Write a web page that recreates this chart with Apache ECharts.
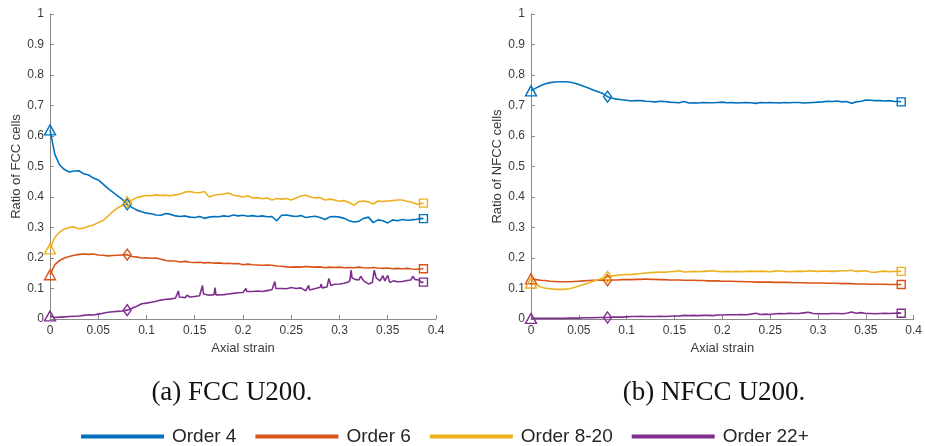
<!DOCTYPE html>
<html>
<head>
<meta charset="utf-8">
<script src="https://cdn.jsdelivr.net/npm/echarts@6/dist/echarts.min.js"></script>
<style>html,body{margin:0;padding:0;background:#fff;}#chart{width:925px;height:446px;}</style>
</head>
<body>
<div id="chart"></div>
<script>
// ---------- data ----------
const seriesNames = ['Order 4', 'Order 6', 'Order 8-20', 'Order 22+'];
const xTicks = [0, 0.05, 0.1, 0.15, 0.2, 0.25, 0.3, 0.35, 0.4];

const strain = [0,0.005,0.01,0.015,0.02,0.025,0.03,0.035,0.04,0.045,0.05,0.055,0.06,0.065,0.07,0.075,0.08,0.085,0.09,0.095,
0.1,0.105,0.11,0.115,0.12,0.125,0.13,0.135,0.14,0.145,0.15,0.155,0.16,0.165,0.17,0.175,0.18,0.185,0.19,0.195,
0.2,0.205,0.21,0.215,0.22,0.225,0.23,0.235,0.24,0.245,0.25,0.255,0.26,0.265,0.27,0.275,0.28,0.285,0.29,0.295,
0.3,0.305,0.31,0.315,0.32,0.325,0.33,0.335,0.34,0.345,0.35,0.355,0.36,0.365,0.37,0.375,0.38,0.385,0.387];

// (a) FCC U200
const fccOrder4 = [0.62,0.54,0.505,0.49,0.482,0.485,0.486,0.476,0.472,0.462,0.456,0.442,0.428,0.416,0.404,0.392,0.376,0.366,0.357,0.352,
0.347,0.345,0.341,0.34,0.346,0.343,0.338,0.336,0.338,0.334,0.333,0.336,0.33,0.334,0.336,0.335,0.338,0.336,0.341,0.338,
0.34,0.337,0.339,0.336,0.338,0.335,0.336,0.322,0.34,0.341,0.338,0.336,0.339,0.333,0.335,0.337,0.333,0.326,0.335,0.336,
0.334,0.33,0.322,0.318,0.32,0.33,0.334,0.316,0.325,0.322,0.315,0.325,0.322,0.326,0.324,0.325,0.327,0.33,0.329];
const fccOrder6 = [0.145,0.178,0.192,0.2,0.205,0.209,0.212,0.213,0.212,0.213,0.21,0.209,0.207,0.208,0.209,0.21,0.211,0.205,0.203,0.2,
0.201,0.199,0.2,0.196,0.192,0.19,0.19,0.187,0.189,0.186,0.185,0.186,0.184,0.185,0.183,0.184,0.182,0.183,0.181,0.182,
0.178,0.18,0.178,0.177,0.176,0.177,0.176,0.174,0.173,0.171,0.17,0.171,0.17,0.172,0.171,0.17,0.171,0.168,0.17,0.169,
0.17,0.168,0.169,0.168,0.17,0.168,0.167,0.169,0.167,0.166,0.167,0.165,0.166,0.165,0.166,0.164,0.163,0.165,0.165];
const fccOrder8to20 = [0.23,0.268,0.285,0.295,0.3,0.302,0.296,0.298,0.304,0.308,0.316,0.323,0.337,0.352,0.364,0.373,0.383,0.39,0.398,0.402,
0.405,0.404,0.407,0.405,0.406,0.404,0.407,0.41,0.416,0.418,0.415,0.414,0.418,0.4,0.406,0.408,0.41,0.413,0.406,0.403,
0.4,0.404,0.397,0.398,0.394,0.397,0.39,0.395,0.393,0.395,0.39,0.397,0.403,0.406,0.4,0.397,0.398,0.39,0.393,0.39,
0.386,0.388,0.382,0.373,0.385,0.387,0.384,0.377,0.387,0.385,0.387,0.388,0.39,0.39,0.386,0.383,0.376,0.379,0.38];
const fccOrder22Strain = [0,0.005,0.01,0.015,0.02,0.025,0.03,0.035,0.04,0.045,0.05,0.055,0.06,0.065,0.07,0.075,0.08,0.085,0.09,0.095,
0.1,0.105,0.11,0.115,0.12,0.125,0.13,0.132,0.133,0.134,0.14,0.142,0.145,0.15,0.155,0.157,0.158,0.159,0.165,0.17,0.171,0.172,
0.18,0.185,0.19,0.195,0.2,0.202,0.203,0.204,0.21,0.215,0.22,0.225,0.23,0.232,0.233,0.234,0.24,0.245,0.25,0.252,0.255,0.26,
0.265,0.267,0.268,0.269,0.275,0.28,0.281,0.282,0.287,0.289,0.291,0.295,0.3,0.305,0.31,0.311,0.312,0.313,0.316,0.32,0.322,
0.325,0.33,0.334,0.336,0.338,0.342,0.345,0.347,0.35,0.352,0.356,0.36,0.365,0.37,0.374,0.376,0.378,0.382,0.385,0.387];
const fccOrder22 = [0.01,0.005,0.006,0.007,0.008,0.009,0.01,0.012,0.014,0.013,0.016,0.019,0.022,0.024,0.025,0.026,0.029,0.035,0.042,0.05,
0.052,0.055,0.058,0.062,0.065,0.066,0.068,0.07,0.092,0.072,0.07,0.078,0.072,0.074,0.076,0.078,0.11,0.082,0.078,0.08,0.103,0.079,
0.08,0.082,0.084,0.086,0.087,0.09,0.1,0.09,0.09,0.092,0.09,0.093,0.096,0.096,0.123,0.1,0.1,0.099,0.103,0.108,0.1,0.102,
0.092,0.09,0.11,0.095,0.1,0.104,0.115,0.102,0.105,0.133,0.11,0.114,0.115,0.117,0.122,0.13,0.16,0.135,0.13,0.128,0.14,
0.125,0.115,0.12,0.16,0.135,0.125,0.142,0.125,0.143,0.12,0.125,0.122,0.123,0.126,0.128,0.14,0.13,0.128,0.12,0.121];

// (b) NFCC U200
const nfccOrder4 = [0.748,0.757,0.765,0.771,0.775,0.777,0.778,0.778,0.777,0.774,0.769,0.763,0.757,0.751,0.745,0.739,0.729,0.724,0.721,0.719,
0.717,0.715,0.716,0.716,0.714,0.713,0.712,0.714,0.713,0.711,0.71,0.709,0.713,0.708,0.709,0.708,0.71,0.709,0.709,0.71,
0.711,0.709,0.71,0.708,0.709,0.71,0.709,0.707,0.71,0.709,0.71,0.709,0.708,0.71,0.709,0.71,0.71,0.708,0.709,0.71,
0.711,0.712,0.714,0.713,0.715,0.712,0.713,0.707,0.712,0.714,0.718,0.717,0.716,0.716,0.715,0.716,0.713,0.713,0.712];
const nfccOrder6 = [0.132,0.129,0.127,0.126,0.124,0.123,0.122,0.122,0.122,0.123,0.124,0.125,0.126,0.127,0.127,0.128,0.127,0.128,0.128,0.129,
0.129,0.129,0.13,0.13,0.131,0.13,0.13,0.129,0.129,0.128,0.128,0.128,0.127,0.127,0.127,0.126,0.126,0.125,0.125,0.125,
0.124,0.124,0.124,0.123,0.123,0.122,0.122,0.121,0.121,0.121,0.121,0.12,0.12,0.12,0.12,0.119,0.119,0.119,0.118,0.118,
0.118,0.118,0.117,0.117,0.117,0.116,0.116,0.116,0.115,0.115,0.115,0.114,0.114,0.114,0.114,0.113,0.113,0.113,0.113];
const nfccOrder8to20 = [0.118,0.113,0.106,0.101,0.099,0.097,0.097,0.097,0.099,0.103,0.108,0.113,0.118,0.124,0.129,0.134,0.138,0.141,0.143,0.145,
0.146,0.146,0.148,0.149,0.151,0.152,0.153,0.154,0.153,0.155,0.156,0.158,0.154,0.155,0.156,0.155,0.156,0.157,0.158,0.156,
0.155,0.156,0.155,0.156,0.155,0.156,0.157,0.156,0.157,0.156,0.155,0.157,0.158,0.156,0.155,0.156,0.157,0.156,0.158,0.157,
0.156,0.157,0.157,0.156,0.157,0.158,0.158,0.16,0.156,0.157,0.158,0.154,0.153,0.156,0.157,0.155,0.156,0.156,0.156];
const nfccOrder22 = [0.002,0.002,0.002,0.002,0.002,0.002,0.002,0.002,0.003,0.003,0.003,0.004,0.004,0.004,0.005,0.005,0.005,0.006,0.006,0.006,
0.007,0.008,0.008,0.009,0.008,0.008,0.008,0.009,0.008,0.009,0.01,0.01,0.012,0.011,0.012,0.011,0.012,0.012,0.011,0.013,
0.013,0.014,0.014,0.014,0.015,0.014,0.016,0.019,0.015,0.016,0.015,0.017,0.018,0.017,0.019,0.018,0.018,0.02,0.022,0.018,
0.017,0.017,0.017,0.018,0.018,0.017,0.019,0.023,0.019,0.021,0.018,0.018,0.017,0.018,0.019,0.018,0.019,0.02,0.019];

// ---------- styling ----------
const colors = ['#0072BD', '#D95319', '#EDB120', '#7E2F8E'];
const axisGrey = '#8a8a8a';
const labelColor = '#3a3a3a';
const FONT = '"Liberation Sans", Arial, Helvetica, sans-serif';

function makeSeries(name, xs, ys, gridIdx, color) {
  const lastX = xs[xs.length - 1];
  const markX = 0.08;
  return {
    type: 'line',
    name: name,
    xAxisIndex: gridIdx,
    yAxisIndex: gridIdx,
    data: xs.map((x, i) => [x, ys[i]]),
    showSymbol: true,
    symbol: function (v) {
      if (v[0] === 0) return 'triangle';
      if (v[0] === markX) return 'diamond';
      if (v[0] === lastX) return 'rect';
      return 'none';
    },
    symbolSize: function (v) {
      if (v[0] === 0) return [11, 10];
      if (v[0] === markX) return [8, 11];
      if (v[0] === lastX) return [8, 8];
      return 0;
    },
    lineStyle: { color: color, width: 1.6 },
    itemStyle: { color: 'rgba(255,255,255,0)', borderColor: color, borderWidth: 1.4 },
    emphasis: { disabled: true },
    silent: true,
    animation: false
  };
}

function xAxisCfg(gridIdx) {
  return {
    type: 'value', gridIndex: gridIdx, min: 0, max: 0.4, interval: 0.05,
    name: 'Axial strain', nameLocation: 'middle', nameGap: 22,
    nameTextStyle: { fontSize: 13, color: labelColor, fontFamily: FONT },
    axisLine: { show: true, onZero: false, lineStyle: { color: axisGrey, width: 1 } },
    axisTick: { show: true, inside: true, length: 4, lineStyle: { color: axisGrey } },
    axisLabel: { fontSize: 12, color: labelColor, margin: 6, fontFamily: FONT,
      formatter: v => String(+v.toFixed(2)) },
    splitLine: { show: false }
  };
}
function yAxisCfg(gridIdx, name) {
  return {
    type: 'value', gridIndex: gridIdx, min: 0, max: 1, interval: 0.1,
    name: name, nameLocation: 'middle', nameGap: 24,
    nameTextStyle: { fontSize: 13, color: labelColor, fontFamily: FONT },
    axisLine: { show: true, onZero: false, lineStyle: { color: axisGrey, width: 1 } },
    axisTick: { show: true, inside: true, length: 4, lineStyle: { color: axisGrey } },
    axisLabel: { fontSize: 12, color: labelColor, margin: 6, fontFamily: FONT,
      formatter: v => String(+v.toFixed(1)) },
    splitLine: { show: false }
  };
}

const series = [
  makeSeries(seriesNames[0], strain, fccOrder4, 0, colors[0]),
  makeSeries(seriesNames[1], strain, fccOrder6, 0, colors[1]),
  makeSeries(seriesNames[2], strain, fccOrder8to20, 0, colors[2]),
  makeSeries(seriesNames[3], fccOrder22Strain, fccOrder22, 0, colors[3]),
  makeSeries(seriesNames[0], strain, nfccOrder4, 1, colors[0]),
  makeSeries(seriesNames[1], strain, nfccOrder6, 1, colors[1]),
  makeSeries(seriesNames[2], strain, nfccOrder8to20, 1, colors[2]),
  makeSeries(seriesNames[3], strain, nfccOrder22, 1, colors[3])
];

const chart = echarts.init(document.getElementById('chart'), null, { renderer: 'canvas' });
chart.setOption({
  animation: false,
  backgroundColor: '#ffffff',
  textStyle: { fontFamily: FONT },
  grid: [
    { left: 50, top: 14, width: 386, height: 305, containLabel: false },
    { left: 531, top: 14, width: 386, height: 305, containLabel: false }
  ],
  xAxis: [xAxisCfg(0), xAxisCfg(1)],
  yAxis: [yAxisCfg(0, 'Ratio of FCC cells'), yAxisCfg(1, 'Ratio of NFCC cells')],
  legend: {
    left: 76, top: 422,
    icon: 'rect', itemWidth: 83, itemHeight: 4, itemGap: 19,
    selectedMode: false,
    textStyle: { fontSize: 19, color: '#262626', fontFamily: FONT, padding: [0, 0, 0, 3] },
    data: seriesNames.map((n, i) => ({ name: n, itemStyle: { color: colors[i], borderWidth: 0 } }))
  },
  graphic: [
    { type: 'text', x: 232, y: 393, silent: true,
      style: { text: '(a) FCC U200.', fill: '#111', align: 'center', verticalAlign: 'middle',
        font: '27px "Liberation Serif", "DejaVu Serif", serif' } },
    { type: 'text', x: 714, y: 393, silent: true,
      style: { text: '(b) NFCC U200.', fill: '#111', align: 'center', verticalAlign: 'middle',
        font: '27px "Liberation Serif", "DejaVu Serif", serif' } }
  ],
  series: series
});
</script>
</body>
</html>
